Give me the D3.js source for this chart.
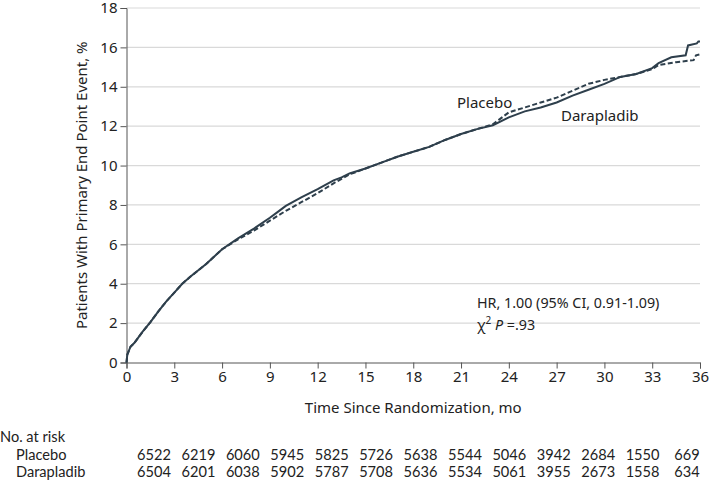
<!DOCTYPE html>
<html>
<head>
<meta charset="utf-8">
<script src="https://cdn.jsdelivr.net/npm/d3@7"></script>
<style>
  html, body { margin: 0; padding: 0; background: #fff; }
  svg { display: block; }
  text { font-family: "Noto Sans", "Open Sans", sans-serif; fill: #222; }
  .risk { font-family: Lato, "Noto Sans", sans-serif; }
</style>
</head>
<body>
<svg id="chart" width="714" height="482"></svg>
<script>
// ---- data ----
const xTicks = [0, 3, 6, 9, 12, 15, 18, 21, 24, 27, 30, 33, 36];
const yTicks = [0, 2, 4, 6, 8, 10, 12, 14, 16, 18];

const daraMonths = [0, 0.05, 0.25, 0.5, 1, 1.5, 2, 2.5, 3, 3.5, 4, 5, 6, 7, 8, 9, 9.5, 10, 11, 12, 13, 13.5, 14, 15, 16, 17, 18, 19, 20, 21, 22, 23, 24, 25, 26, 27, 28, 29, 30, 31, 32, 33, 33.4, 34.2, 35.1, 35.25, 35.8, 35.9, 36];
const daraRisk   = [0, 0.4, 0.8, 1.0, 1.55, 2.05, 2.6, 3.1, 3.55, 4.0, 4.35, 5.0, 5.75, 6.3, 6.8, 7.35, 7.65, 7.95, 8.4, 8.8, 9.25, 9.4, 9.6, 9.85, 10.15, 10.45, 10.7, 10.95, 11.3, 11.6, 11.85, 12.05, 12.45, 12.75, 12.95, 13.2, 13.55, 13.85, 14.15, 14.5, 14.65, 14.95, 15.2, 15.5, 15.6, 16.1, 16.2, 16.3, 16.3];

const placMonths = [0, 0.05, 0.25, 0.5, 1, 1.5, 2, 2.5, 3, 3.5, 4, 5, 6, 7, 8, 9, 10, 11, 12, 13, 14, 15, 16, 17, 18, 19, 20, 21, 22, 23, 24, 25, 26, 27, 28, 29, 30, 31, 32, 33, 33.4, 34.5, 35.6, 35.75, 36];
const placRisk   = [0, 0.4, 0.8, 1.0, 1.55, 2.05, 2.6, 3.1, 3.55, 4.0, 4.35, 5.0, 5.75, 6.25, 6.7, 7.2, 7.7, 8.15, 8.6, 9.1, 9.55, 9.85, 10.15, 10.45, 10.7, 10.95, 11.3, 11.6, 11.85, 12.1, 12.7, 12.95, 13.2, 13.45, 13.8, 14.15, 14.35, 14.5, 14.65, 14.9, 15.1, 15.25, 15.35, 15.6, 15.65];

const riskLabels = ["Placebo", "Darapladib"];
const placAtRisk = [6522, 6219, 6060, 5945, 5825, 5726, 5638, 5544, 5046, 3942, 2684, 1550, 669];
const daraAtRisk = [6504, 6201, 6038, 5902, 5787, 5708, 5636, 5534, 5061, 3955, 2673, 1558, 634];

// ---- layout ----
const svg = d3.select("#chart");
const mLeft = 126.5, mRight = 700, mTop = 8, mBottom = 362.5;
const x = d3.scaleLinear().domain([0, 36]).range([mLeft, mRight]);
const y = d3.scaleLinear().domain([0, 18]).range([mBottom, mTop]);
const riskX = d3.scaleLinear().domain([0, 12]).range([154, 687]);
const lineColor = "#2e3f4c";
const fs = 15;
const rfs = 14.6;

// gridlines
svg.append("g").selectAll("line").data(yTicks.filter(d => d > 0)).join("line")
  .attr("x1", mLeft).attr("x2", mRight)
  .attr("y1", d => y(d)).attr("y2", d => y(d))
  .attr("stroke", "#d9d9d9").attr("stroke-width", 1.2);

// axes
const yAxis = svg.append("g").attr("transform", `translate(${mLeft},0)`)
  .call(d3.axisLeft(y).tickValues(yTicks).tickSize(6).tickPadding(3));
const xAxis = svg.append("g").attr("transform", `translate(0,${mBottom})`)
  .call(d3.axisBottom(x).tickValues(xTicks).tickSize(6).tickPadding(3));
[yAxis, xAxis].forEach(g => {
  g.select(".domain").attr("stroke", "#555").attr("stroke-width", 1);
  g.selectAll(".tick line").attr("stroke", "#555");
  g.selectAll(".tick text").attr("font-size", fs).attr("fill", "#222")
    .attr("font-family", '"Noto Sans", sans-serif');
});

// lines
const line = d3.line().x(d => x(d[0])).y(d => y(d[1]));
const plac = placMonths.map((m, i) => [m, placRisk[i]]);
const dara = daraMonths.map((m, i) => [m, daraRisk[i]]);
svg.append("path").datum(plac).attr("d", line)
  .attr("fill", "none").attr("stroke", lineColor).attr("stroke-width", 2)
  .attr("stroke-dasharray", "5,2.5");
svg.append("path").datum(dara).attr("d", line)
  .attr("fill", "none").attr("stroke", lineColor).attr("stroke-width", 2);

// series labels
svg.append("text").attr("x", 457).attr("y", 108).attr("font-size", fs).text("Placebo");
svg.append("text").attr("x", 561).attr("y", 121).attr("font-size", fs).text("Darapladib");

// annotation
svg.append("text").attr("x", 477).attr("y", 307.5).attr("font-size", 14.3)
  .text("HR, 1.00 (95% CI, 0.91-1.09)");
const chi = svg.append("text").attr("x", 477).attr("y", 329.5).attr("font-size", 14.3);
chi.append("tspan").text("χ");
chi.append("tspan").attr("font-size", 10).attr("dy", -6).text("2");
chi.append("tspan").attr("dy", 6).text(" ");
chi.append("tspan").attr("font-style", "italic").text("P");
chi.append("tspan").text(" =.93");

// axis titles
svg.append("text")
  .attr("transform", `translate(87,${(mTop + mBottom) / 2}) rotate(-90)`)
  .attr("text-anchor", "middle").attr("font-size", fs)
  .text("Patients With Primary End Point Event, %");
svg.append("text").attr("x", (mLeft + mRight) / 2).attr("y", 413)
  .attr("text-anchor", "middle").attr("font-size", fs)
  .text("Time Since Randomization, mo");

// risk table
svg.append("text").attr("class", "risk").attr("x", 0).attr("y", 442).attr("font-size", rfs).text("No. at risk");
const rows = [placAtRisk, daraAtRisk];
rows.forEach((vals, r) => {
  const yy = 459.5 + r * 17.5;
  svg.append("text").attr("class", "risk").attr("x", 16).attr("y", yy).attr("font-size", rfs).text(riskLabels[r]);
  svg.append("g").selectAll("text").data(vals).join("text")
    .attr("class", "risk")
    .attr("x", (d, i) => riskX(i))
    .attr("y", yy).attr("text-anchor", "middle").attr("font-size", rfs)
    .text(d => d);
});
</script>
</body>
</html>
